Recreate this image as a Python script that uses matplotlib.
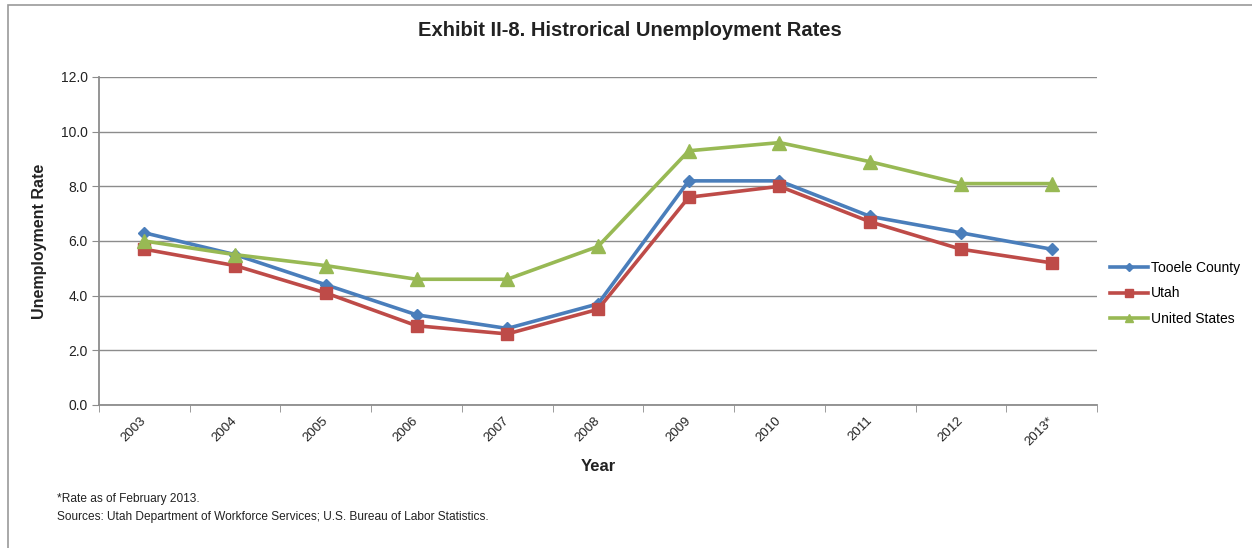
import numpy as np
import matplotlib.pyplot as plt
from matplotlib.patches import Rectangle

plt.rcParams["font.family"] = ["Liberation Sans", "DejaVu Sans"]

YEARS = ["2003", "2004", "2005", "2006", "2007", "2008", "2009", "2010", "2011", "2012", "2013*"]
TOOELE = [6.3, 5.5, 4.4, 3.3, 2.8, 3.7, 8.2, 8.2, 6.9, 6.3, 5.7]
UTAH = [5.7, 5.1, 4.1, 2.9, 2.6, 3.5, 7.6, 8.0, 6.7, 5.7, 5.2]
USA = [6.0, 5.5, 5.1, 4.6, 4.6, 5.8, 9.3, 9.6, 8.9, 8.1, 8.1]

BLUE = "#4a7ebb"; RED = "#be4b48"; GREEN = "#98b954"; GRID = "#8c8c8c"; TXT = "#222222"

fig = plt.figure(figsize=(12.52, 5.48), dpi=100)
fig.patches.append(Rectangle((8 / 1252, -0.1), 1.2, 1 - 5 / 548 + 0.1, transform=fig.transFigure,
                             fill=False, edgecolor="#999999", lw=1.2))
ax = fig.add_axes([99 / 1252, 1 - 405 / 548, 998 / 1252, 328 / 548])

x = np.arange(len(YEARS))
ax.plot(x, TOOELE, color=BLUE, lw=2.6, marker="D", ms=6.5, label="Tooele County", zorder=3)
ax.plot(x, UTAH, color=RED, lw=2.6, marker="s", ms=8.5, label="Utah", zorder=3)
ax.plot(x, USA, color=GREEN, lw=2.6, marker="^", ms=9.5, label="United States", zorder=3)

ax.set_xlim(-0.5, len(YEARS) - 0.5)
ax.set_ylim(0, 12)
ax.set_yticks(np.arange(0, 12.1, 2))
ax.set_yticklabels([f"{v:.1f}" for v in np.arange(0, 12.1, 2)], fontsize=10, color=TXT)
ax.set_xticks(x)
ax.set_xticklabels(YEARS, rotation=45, fontsize=9.5, color=TXT, ha="right", va="center",
                   rotation_mode="anchor")
ax.tick_params(axis="x", length=0, pad=10)
ax.set_xticks(np.arange(-0.5, len(YEARS)), minor=True)
ax.tick_params(axis="x", which="minor", length=5, color=GRID, direction="out")
ax.tick_params(axis="y", length=5, color=GRID, direction="out", pad=3)
ax.grid(axis="y", color=GRID, lw=1)
ax.set_axisbelow(True)
for s in ["top", "right"]:
    ax.spines[s].set_visible(False)
for s in ["left", "bottom"]:
    ax.spines[s].set_color(GRID)
    ax.spines[s].set_linewidth(1.3)

ax.set_ylabel("Unemployment Rate", fontsize=11.5, fontweight="bold", color=TXT, labelpad=10)
ax.set_xlabel("Year", fontsize=12, fontweight="bold", color=TXT, labelpad=8)
fig.text(630 / 1252, 1 - 30 / 548, "Exhibit II-8. Histrorical Unemployment Rates", ha="center", va="center",
         fontsize=14.5, fontweight="bold", color=TXT)

ax.legend(loc="center left", bbox_to_anchor=(1.0, 0.34), frameon=False, fontsize=10,
          handlelength=2.8, handletextpad=0.2, labelspacing=0.85, markerscale=0.6)

fig.text(57 / 1252, 1 - 499 / 548, "*Rate as of February 2013.", fontsize=8.6, color=TXT, va="center")
fig.text(57 / 1252, 1 - 517 / 548, "Sources: Utah Department of Workforce Services; U.S. Bureau of Labor Statistics.",
         fontsize=8.6, color=TXT, va="center")

fig.savefig("out.png", dpi=100, facecolor="white")
